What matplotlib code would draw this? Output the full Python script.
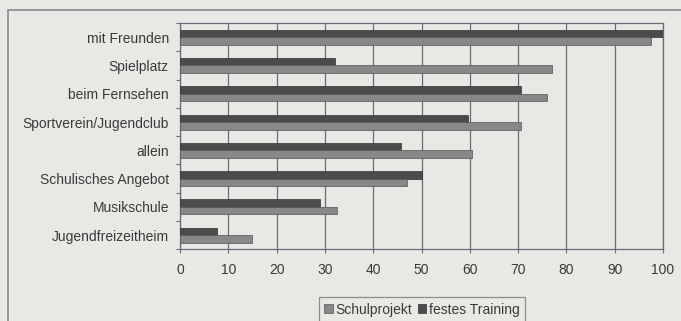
import matplotlib.pyplot as plt
import numpy as np
from matplotlib.patches import Rectangle

plt.rcParams['font.family'] = ['Liberation Sans', 'DejaVu Sans']

# Daten
kategorien = ['mit Freunden', 'Spielplatz', 'beim Fernsehen', 'Sportverein/Jugendclub',
              'allein', 'Schulisches Angebot', 'Musikschule', 'Jugendfreizeitheim']
schulprojekt = [97.5, 77, 76, 70.5, 60.5, 47, 32.5, 15]
festes_training = [100, 32, 70.5, 59.7, 45.7, 50.2, 29, 7.6]

bg = '#e8e8e5'
dunkel = '#4b4b4b'
hell = '#888888'
grid = '#6c6c78'
txt = '#3a3a3a'
fs = 10

fig = plt.figure(figsize=(6.81, 3.21), dpi=100, facecolor=bg)
ax = fig.add_axes([180/681, 1 - 249.3/321, (663 - 180)/681, (249.3 - 23)/321])
ax.set_facecolor(bg)

y = np.arange(len(kategorien))
h = 0.265
ax.barh(y - h/2, festes_training, height=h, color=dunkel, edgecolor='#333333', linewidth=0.5,
        label='festes Training', zorder=3)
ax.barh(y + h/2, schulprojekt, height=h, color=hell, edgecolor='#555555', linewidth=0.5,
        label='Schulprojekt', zorder=3)

ax.set_xlim(0, 100)
ax.set_ylim(len(kategorien) - 0.5, -0.5)
ax.set_xticks(range(0, 101, 10))
ax.set_yticks(y)
ax.set_yticklabels(kategorien)
ax.set_yticks(np.arange(-0.5, len(kategorien), 1), minor=True)
ax.tick_params(axis='y', which='major', length=0, pad=8, labelsize=fs, labelcolor=txt)
ax.tick_params(axis='y', which='minor', length=3, color=grid, width=0.8)
ax.tick_params(axis='x', length=3, color=grid, width=0.8, labelsize=fs, labelcolor=txt, pad=7)
ax.xaxis.grid(True, color=grid, linewidth=0.9, zorder=0)
for s in ax.spines.values():
    s.set_color(grid)
    s.set_linewidth(0.9)

# Rahmen um das Diagramm
fig.patches.append(Rectangle((8/681, -0.1), 1.0, 1 - 10/321 + 0.1, transform=fig.transFigure,
                             fill=False, edgecolor='#8a8890', linewidth=1.2))

handles, labels = ax.get_legend_handles_labels()
leg = fig.legend(handles[::-1], labels[::-1], loc='upper center', bbox_to_anchor=(422/681, 1 - 297/321),
                 ncol=2, fontsize=fs, frameon=True, fancybox=False, handlelength=0.6, handleheight=0.6,
                 handletextpad=0.2, columnspacing=0.4, borderpad=0.4, borderaxespad=0,
                 edgecolor='#777777', labelcolor=txt)
leg.get_frame().set_facecolor(bg)
leg.get_frame().set_linewidth(0.9)

fig.savefig('out.png', dpi=100, facecolor=bg)
